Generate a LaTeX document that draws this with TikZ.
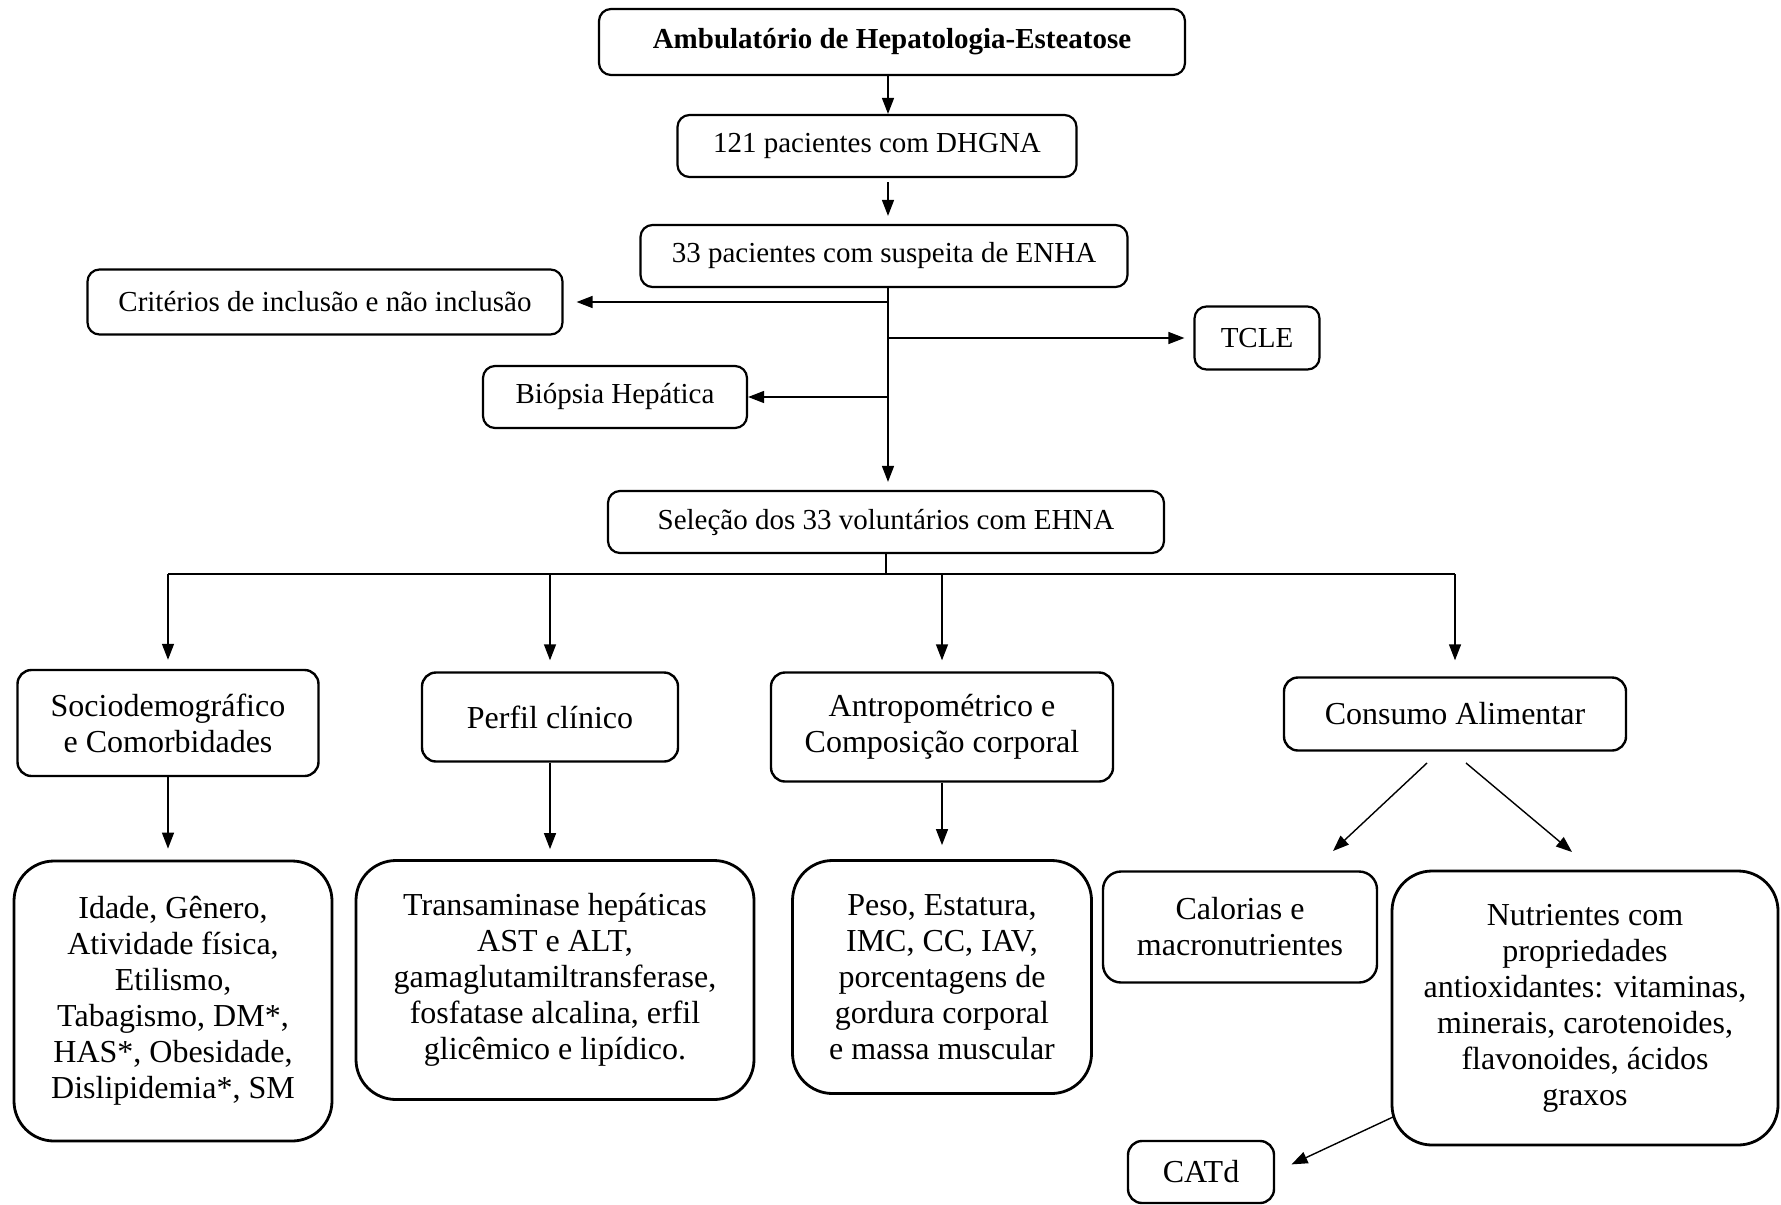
\documentclass[tikz,border=0pt]{standalone}
\usepackage{fontspec}
\setmainfont{Liberation Serif}
\usetikzlibrary{arrows.meta}
\begin{document}
\begin{tikzpicture}[x=0.5pt,y=-0.5pt,
  sbox/.style={draw, rounded corners=6pt, line width=1.1pt, align=center, inner sep=0pt, font=\fontsize{14.5}{17}\selectfont},
  mbox/.style={draw, rounded corners=7pt, line width=1.2pt, align=center, inner sep=0pt, font=\fontsize{16}{18}\selectfont},
  bbox/.style={draw, rounded corners=20pt, line width=1.4pt, align=center, inner sep=0pt, font=\fontsize{16}{18}\selectfont},
  arr/.style={-{Triangle[length=8pt,width=6pt]}, line width=0.7pt},
  ln/.style={line width=0.7pt}]
\path[use as bounding box, fill=white] (0,0) rectangle (1781,1204);

% top chain
\node[sbox, minimum width=293pt, minimum height=33pt, font=\fontsize{14.5}{17}\selectfont\bfseries] (amb) at (892,42) {Ambulatório de Hepatologia-Esteatose};
\node[sbox, minimum width=199.5pt, minimum height=31pt] (p121) at (877,146) {121 pacientes com DHGNA};
\node[sbox, minimum width=243.5pt, minimum height=31pt] (p33) at (884,256) {33 pacientes com suspeita de ENHA};
\node[sbox, minimum width=237.5pt, minimum height=32.5pt] (crit) at (325,302) {Critérios de inclusão e não inclusão};
\node[sbox, minimum width=62.5pt, minimum height=31.5pt] (tcle) at (1257,338) {TCLE};
\node[sbox, minimum width=132pt, minimum height=31pt] (biop) at (615,397) {Biópsia Hepática};
\node[sbox, minimum width=278pt, minimum height=31pt] (sel) at (886,522) {Seleção dos 33 voluntários com EHNA};

% level 2
\node[mbox, minimum width=150.5pt, minimum height=53pt] (socio) at (168,723) {Sociodemográfico\\e Comorbidades};
\node[mbox, minimum width=128pt, minimum height=44.5pt] (perfil) at (550,717) {Perfil clínico};
\node[mbox, minimum width=171pt, minimum height=54.5pt] (antro) at (942,727) {Antropométrico e\\Composição corporal};
\node[mbox, minimum width=171pt, minimum height=36.5pt] (cons) at (1455,714) {Consumo Alimentar};

% level 3
\node[bbox, minimum width=159pt, minimum height=140pt] (idade) at (173,1001) {Idade, Gênero,\\Atividade física,\\Etilismo,\\Tabagismo, DM*,\\HAS*, Obesidade,\\Dislipidemia*, SM};
\node[bbox, minimum width=199pt, minimum height=119.5pt] (trans) at (555,980) {Transaminase hepáticas\\AST e ALT,\\gamaglutamiltransferase,\\fosfatase alcalina, erfil\\glicêmico e lipídico.};
\node[bbox, minimum width=149.5pt, minimum height=116.5pt] (peso) at (942,977) {Peso, Estatura,\\IMC, CC, IAV,\\porcentagens de\\gordura corporal\\e massa muscular};
\node[mbox, rounded corners=9pt, minimum width=137pt, minimum height=55.5pt] (cal) at (1240,927) {Calorias e\\macronutrientes};
\node[bbox, minimum width=193pt, minimum height=137pt] (nutri) at (1585,1008) {Nutrientes com\\propriedades\\antioxidantes: vitaminas,\\minerais, carotenoides,\\flavonoides, ácidos\\graxos};
\node[mbox, minimum width=73pt, minimum height=31pt] (catd) at (1201,1172) {CATd};

% spine
\coordinate (sp) at (888,0);
\draw[arr] (amb.south -| sp) -- (p121.north -| sp);
\draw[arr, shorten <=2pt, shorten >=4pt] (p121.south -| sp) -- (p33.north -| sp);
\draw[arr, shorten >=4pt] (p33.south -| sp) -- (sel.north -| sp);
\draw[arr, shorten >=6.5pt] (sp |- crit.east) -- (crit.east);
\draw[arr, shorten >=4.5pt] (sp |- tcle.west) -- (tcle.west);
\draw[arr] (sp |- biop.east) -- (biop.east);

% branches
\coordinate (br) at (0,574);
\draw[ln] (sel.south) -- (sel.south |- br);
\draw[ln] (socio.north |- br) -- (cons.north |- br);
\draw[arr, shorten >=4.5pt] (socio.north |- br) -- (socio.north);
\draw[arr, shorten >=5.5pt] (perfil.north |- br) -- (perfil.north);
\draw[arr, shorten >=5.5pt] (antro.north |- br) -- (antro.north);
\draw[arr, shorten >=8pt] (cons.north |- br) -- (cons.north);

\draw[arr, shorten >=5.5pt] (socio.south) -- (socio.south |- idade.north);
\draw[arr, shorten >=5pt] (perfil.south) -- (perfil.south |- trans.north);
\draw[arr, shorten >=7pt] (antro.south) -- (antro.south |- peso.north);

% consumo diagonals
\coordinate (d1s) at (1427,763); \coordinate (d1e) at (1333,851);
\coordinate (d2s) at (1466,763); \coordinate (d2e) at (1572,852);
\draw[arr] (d1s) -- (d1e);
\draw[arr] (d2s) -- (d2e);
\coordinate (d3s) at (1393,1117);
\draw[arr, shorten >=9pt] (d3s) -- (catd.east);
\end{tikzpicture}
\end{document}
